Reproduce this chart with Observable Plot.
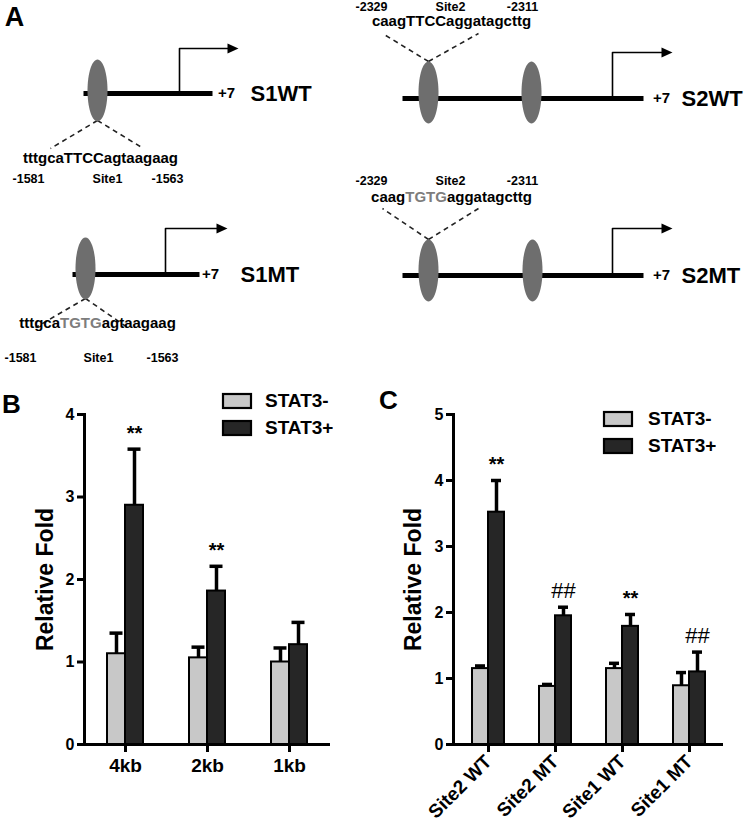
<!DOCTYPE html>
<html>
<head>
<meta charset="utf-8">
<script src="https://cdn.jsdelivr.net/npm/d3@7"></script>
<script src="https://cdn.jsdelivr.net/npm/@observablehq/plot@0.6"></script>
<style>
  body { margin: 0; background: #fff; }
  #fig { position: relative; width: 745px; height: 832px; overflow: hidden; background: #fff;
         font-family: "Liberation Sans", Arial, Helvetica, sans-serif; }
  .lg-swatches { font: bold 19px "Liberation Sans", Arial, sans-serif; color: #000; margin: 0; }
  .lg-swatch { height: 27px; padding: 0; }
  .lg-swatch > svg { margin-right: 14px; overflow: visible; }
  .lg-swatch rect { stroke: #000; stroke-width: 2.2px; }
</style>
</head>
<body>
<div id="fig"></div>
<script>
// ---------------- DATA ----------------
// Panel A: promoter constructs
const constructNames = ["S1WT", "S2WT", "S1MT", "S2MT"];
const seqPrefix = ["tttgca", "caag", "tttgca", "caag"];
const seqCore = ["TTCC", "TTCC", "TGTG", "TGTG"];
const seqSuffix = ["agtaagaag", "aggatagcttg", "agtaagaag", "aggatagcttg"];
const mutated = [false, false, true, true];
const siteLabels = ["Site1", "Site2", "Site1", "Site2"];
const siteFrom = ["-1581", "-2329", "-1581", "-2329"];
const siteTo = ["-1563", "-2311", "-1563", "-2311"];
const endLabel = "+7";

// Panel B: deletion constructs
const groupsB = ["4kb", "2kb", "1kb"];
const negB = [1.10, 1.05, 1.00];
const negErrB = [1.35, 1.18, 1.17];
const posB = [2.90, 1.86, 1.21];
const posErrB = [3.58, 2.16, 1.48];
const sigB = ["**", "**", ""];
const yTicksB = [0, 1, 2, 3, 4];

// Panel C: site mutants
const groupsC = ["Site2 WT", "Site2 MT", "Site1 WT", "Site1 MT"];
const negC = [1.15, 0.88, 1.15, 0.89];
const negErrC = [1.19, 0.91, 1.23, 1.09];
const posC = [3.52, 1.95, 1.79, 1.10];
const posErrC = [4.00, 2.08, 1.97, 1.40];
const sigC = ["**", "##", "**", "##"];
const yTicksC = [0, 1, 2, 3, 4, 5];

const series = ["STAT3-", "STAT3+"];
const yLabel = "Relative Fold";

// ---------------- LAYOUT (schematic, panel-A pixel units) ----------------
const schematic = [
  {lineStart: 83, lineEnd: 212, y: 93, sites: [97], ey: 90, dashY: 120, tss: 179, top: 48, tip: 238,
   plusX: 226, nameX: 250, seqX: 100, seqY: 158, numY: 178, numX: [28, 107, 167], dashTo: [[50, 148], [143, 148]]},
  {lineStart: 402, lineEnd: 643, y: 98, sites: [428, 531], ey: 92, dashY: 61, tss: 612, top: 52, tip: 672,
   plusX: 661, nameX: 681, seqX: 451, seqY: 21, numY: 6.5, numX: [371, 450, 522], dashTo: [[382, 33], [478, 33]]},
  {lineStart: 72, lineEnd: 199, y: 274, sites: [85], ey: 268, dashY: 298, tss: 165, top: 228, tip: 227,
   plusX: 210, nameX: 240, seqX: 97, seqY: 323, numY: 357, numX: [20, 98, 162], dashTo: [[35, 327], [127, 327]]},
  {lineStart: 402, lineEnd: 643, y: 275, sites: [428, 532], ey: 270, dashY: 239, tss: 612, top: 228, tip: 672,
   plusX: 661, nameX: 681, seqX: 451, seqY: 197, numY: 180, numX: [371, 450, 522], dashTo: [[382, 208], [478, 208]]}
];

const FONT = '"Liberation Sans", Arial, Helvetica, sans-serif';
const fig = document.getElementById("fig");
function place(el, left, top) {
  el.style.position = "absolute";
  el.style.left = left + "px";
  el.style.top = top + "px";
  fig.appendChild(el);
}

// custom symbols
const ellipse = {
  draw(ctx, size) {
    const rx = Math.sqrt(size / Math.PI), ry = rx * 3.1, k = 0.5523;
    ctx.moveTo(0, -ry);
    ctx.bezierCurveTo(k * rx, -ry, rx, -k * ry, rx, 0);
    ctx.bezierCurveTo(rx, k * ry, k * rx, ry, 0, ry);
    ctx.bezierCurveTo(-k * rx, ry, -rx, k * ry, -rx, 0);
    ctx.bezierCurveTo(-rx, -k * ry, -k * rx, -ry, 0, -ry);
    ctx.closePath();
  }
};
const arrowHead = {
  draw(ctx, size) {
    const r = Math.sqrt(size / Math.PI);
    ctx.moveTo(0, 0);
    ctx.lineTo(-2 * r, -0.9 * r);
    ctx.lineTo(-2 * r, 0.9 * r);
    ctx.closePath();
  }
};

// ---------------- PANEL A ----------------
const aRows = constructNames.map((label, i) => ({
  label, i, ...schematic[i],
  pre: seqPrefix[i], core: seqCore[i], post: seqSuffix[i], mut: mutated[i]
}));
const siteDots = aRows.flatMap(d => d.sites.map(x => ({x, y: d.ey})));
const arrowPts = aRows.flatMap(d => [
  {id: d.label, x: d.tss, y: d.y}, {id: d.label, x: d.tss, y: d.top}, {id: d.label, x: d.tip - 4, y: d.top}
]);
const dashes = aRows.flatMap(d => d.dashTo.map(([x2, y2]) => ({x1: d.sites[0], y1: d.dashY, x2, y2})));
const nums = aRows.flatMap(d => [siteFrom[d.i], siteLabels[d.i], siteTo[d.i]].map((t, k) => ({t, x: d.numX[k], y: d.numY})));

function colorCore(index, scales, values, dimensions, context, next) {
  const g = next(index, scales, values, dimensions, context);
  g.querySelectorAll("text").forEach((node, j) => {
    const d = aRows[index[j]];
    node.textContent = "";
    for (const [s, c] of [[d.pre, null], [d.core, d.mut ? "#7d7d7d" : null], [d.post, null]]) {
      const ts = document.createElementNS("http://www.w3.org/2000/svg", "tspan");
      ts.textContent = s;
      if (c) ts.setAttribute("fill", c);
      node.appendChild(ts);
    }
  });
  return g;
}

const plotA = Plot.plot({
  width: 745, height: 372, margin: 0,
  x: {domain: [0, 745], range: [0, 745], axis: null},
  y: {domain: [0, 372], range: [0, 372], axis: null},
  style: {fontFamily: FONT, color: "#000", background: "transparent"},
  marks: [
    Plot.link(dashes, {x1: "x1", y1: "y1", x2: "x2", y2: "y2", stroke: "#222", strokeWidth: 1.6, strokeDasharray: "5,4"}),
    Plot.link(aRows, {x1: "lineStart", x2: "lineEnd", y1: "y", y2: "y", stroke: "#000", strokeWidth: 5}),
    Plot.dot(siteDots, {x: "x", y: "y", r: 10, symbol: ellipse, fill: "#6e6e6e", stroke: "none"}),
    Plot.line(arrowPts, {x: "x", y: "y", z: "id", stroke: "#000", strokeWidth: 1.6}),
    Plot.dot(aRows, {x: "tip", y: "top", r: 5.5, symbol: arrowHead, fill: "#000", stroke: "none"}),
    Plot.text(aRows, {x: "plusX", y: "y", text: () => endLabel, fontSize: 15, fontWeight: "bold"}),
    Plot.text(aRows, {x: "nameX", y: "y", text: "label", textAnchor: "start", fontSize: 22, fontWeight: "bold"}),
    Plot.text(aRows, {x: "seqX", y: "seqY", text: d => d.pre + d.core + d.post, fontSize: 15, fontWeight: "bold", render: colorCore}),
    Plot.text(nums, {x: "x", y: "y", text: "t", fontSize: 12.5, fontWeight: "bold"}),
    Plot.text(["A"], {frameAnchor: "top-left", dx: 14, dy: 16.5, textAnchor: "middle", lineAnchor: "middle", fontSize: 27, fontWeight: "bold"})
  ]
});
place(plotA, 0, 0);

// ---------------- PANELS B & C ----------------
const barColors = ["#c8c8c8", "#262626"];

function barPanel(o) {
  const rows = o.groups.map((g, i) => ({g, neg: o.neg[i], negErr: o.negErr[i], pos: o.pos[i], posErr: o.posErr[i], sig: o.sig[i]}));
  const half = o.bw / 2, q = half / 2, c = o.cap / 2;
  const pIn = (o.step - o.bw) / o.step;
  const H = 472;
  return Plot.plot({
    width: o.width, height: H,
    marginLeft: o.marginLeft, marginRight: o.marginRight, marginTop: 54, marginBottom: H - 384,
    x: {domain: o.groups, paddingInner: pIn, paddingOuter: pIn / 2},
    y: {domain: [0, o.ticks[o.ticks.length - 1]]},
    style: {fontFamily: FONT, color: "#000", background: "transparent", overflow: "visible"},
    marks: [
      Plot.barY(rows, {x: "g", y: "neg", fill: barColors[0], stroke: "#000", strokeWidth: 2, insetRight: half}),
      Plot.barY(rows, {x: "g", y: "pos", fill: barColors[1], stroke: "#000", strokeWidth: 2, insetLeft: half}),
      Plot.ruleX(rows, {x: "g", y1: "neg", y2: "negErr", dx: -q, strokeWidth: 3.5, stroke: "#000"}),
      Plot.tickY(rows, {x: "g", y: "negErr", insetLeft: q - c, insetRight: o.bw - q - c, strokeWidth: 3.5, stroke: "#000"}),
      Plot.ruleX(rows, {x: "g", y1: "pos", y2: "posErr", dx: q, strokeWidth: 3.5, stroke: "#000"}),
      Plot.tickY(rows, {x: "g", y: "posErr", insetLeft: half + q - c, insetRight: q - c, strokeWidth: 3.5, stroke: "#000"}),
      Plot.text(rows.filter(d => d.sig === "**"), {x: "g", y: "posErr", text: "sig", dx: q, dy: -16, fontSize: 20, fontWeight: "bold"}),
      Plot.text(rows.filter(d => d.sig === "##"), {x: "g", y: "posErr", text: "sig", dx: q, dy: -16, fontSize: 22, fontWeight: "normal"}),
      Plot.ruleY([0], {strokeWidth: 3, stroke: "#000"}),
      Plot.frame({anchor: "left", strokeWidth: 3, stroke: "#000"}),
      Plot.axisY({ticks: o.ticks, tickFormat: d3.format("d"), tickSize: 7, strokeWidth: 3, fontSize: 16, fontWeight: "bold", tickPadding: 3, label: null}),
      Plot.axisX({tickSize: 8, strokeWidth: 3, fontSize: 19, fontWeight: "bold", tickPadding: o.tickPadding, tickRotate: o.tickRotate, label: null}),
      Plot.text([yLabel], {frameAnchor: "left", dx: o.labelDx, rotate: -90, textAnchor: "middle", lineAnchor: "middle", fontSize: 23, fontWeight: "bold"}),
      Plot.text([o.letter], {frameAnchor: "top-left", dx: o.letterDx, dy: o.letterDy, textAnchor: "middle", lineAnchor: "middle", fontSize: 26, fontWeight: "bold"})
    ]
  });
}

const plotB = barPanel({
  groups: groupsB, neg: negB, negErr: negErrB, pos: posB, posErr: posErrB, sig: sigB, ticks: yTicksB,
  width: 372, marginLeft: 84, marginRight: 42, step: 82, bw: 36, cap: 13,
  tickPadding: 6, tickRotate: 0, labelDx: -39, letter: "B", letterDx: -73, letterDy: -10
});
place(plotB, 0, 360);

const plotC = barPanel({
  groups: groupsC, neg: negC, negErr: negErrC, pos: posC, posErr: posErrC, sig: sigC, ticks: yTicksC,
  width: 373, marginLeft: 81, marginRight: 22, step: 67.5, bw: 32, cap: 10,
  tickPadding: 6, tickRotate: -45, labelDx: -40, letter: "C", letterDx: -65, letterDy: -14
});
place(plotC, 372, 360);

// legends
function makeLegend() {
  return Plot.legend({
    color: {domain: series, range: barColors},
    legend: "swatches", columns: 1, swatchWidth: 28, swatchHeight: 14, className: "lg"
  });
}
place(makeLegend(), 223, 387);
const lgC = makeLegend();
lgC.querySelectorAll("svg").forEach(s => s.style.marginRight = "16px");
place(lgC, 604, 405);
</script>
</body>
</html>
